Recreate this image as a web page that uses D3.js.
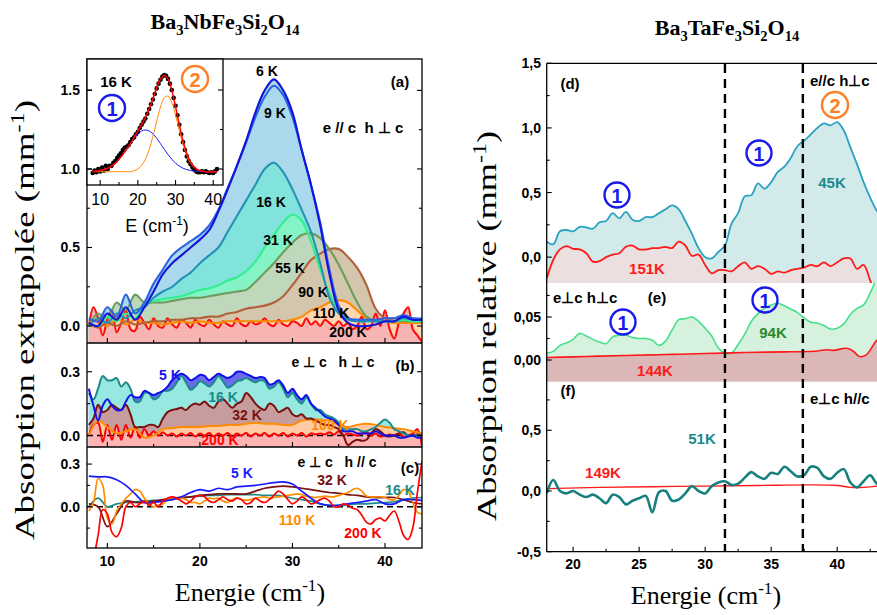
<!DOCTYPE html>
<html><head><meta charset="utf-8">
<script src="https://cdn.jsdelivr.net/npm/d3@7"></script>
<style>body{margin:0;background:#fff} svg{display:block}</style>
</head><body><script>
// ---------------- DATA ----------------
// Panel (a) : Ba3NbFe3Si2O14, e//c h⊥c
const E_A=[8,9,10,11,12,13,14,15,16,17,18,19,20,21,22,23,24,25,26,27,28,29,30,31,32,33,34,35,36,37,38,39,40,41,42,43,44];
const E_H=[8,8.5,9,9.5,10,10.5,11,11.5,12,12.5,13,13.5,14,14.5,15,15.5,16,16.5,17,17.5,18,18.5,19,19.5,20,20.5,21,21.5,22,22.5,23,23.5,24,24.5,25,25.5,26,26.5,27,27.5,28,28.5,29,29.5,30,30.5,31,31.5,32,32.5,33,33.5,34,34.5,35,35.5,36,36.5,37,37.5,38,38.5,39,39.5,40,40.5,41,41.5,42,42.5,43,43.5,44];
const a6K=[0.02,0,0.08,0.04,0.12,0.04,0.12,0.22,0.33,0.40,0.45,0.50,0.55,0.61,0.73,0.87,1.02,1.18,1.36,1.50,1.57,1.50,1.36,1.12,0.90,0.64,0.33,0.10,0.02,0,0,0.01,0.03,0.03,0.06,0.04,0.04];
const a9K=[0.05,0.03,0.12,0.06,0.20,0.08,0.15,0.27,0.36,0.45,0.50,0.54,0.58,0.64,0.74,0.88,1.02,1.17,1.33,1.46,1.53,1.47,1.33,1.12,0.90,0.66,0.36,0.13,0.05,0.04,0.04,0.04,0.05,0.05,0.07,0.05,0.05];
const a16K=[0,0.05,0.02,0.08,0.05,0.10,0.12,0.18,0.22,0.25,0.30,0.34,0.40,0.45,0.50,0.60,0.70,0.80,0.90,1.00,1.04,0.98,0.87,0.74,0.60,0.40,0.18,0.08,0.04,0.03,0.03,0.03,0.03,0.03,0.05,0.04,0.04];
const a31K=[0.02,0,0.06,0.03,0.08,0.05,0.14,0.16,0.17,0.18,0.19,0.21,0.23,0.24,0.26,0.29,0.31,0.35,0.41,0.50,0.58,0.66,0.71,0.67,0.54,0.36,0.21,0.10,0.05,0.03,0.03,0.03,0.03,0.03,0.04,0.03,0.03];
const a55K=[0,0.08,0.05,0.15,0.10,0.20,0.15,0.15,0.15,0.16,0.17,0.18,0.18,0.19,0.20,0.21,0.22,0.23,0.28,0.34,0.40,0.47,0.53,0.58,0.59,0.56,0.49,0.39,0.27,0.15,0.06,0.03,0.03,0.03,0.03,0.03,0.03];
const a90K=[0.02,-0.01,0.02,0,0.03,0.01,0.02,0.03,0.03,0.04,0.04,0.05,0.05,0.06,0.06,0.08,0.09,0.11,0.12,0.13,0.15,0.19,0.26,0.34,0.42,0.46,0.49,0.49,0.44,0.37,0.26,0.11,0.05,0.05,0.05,0.05,0.04];
const a110K=[0.02,0.04,0,0.05,0.01,0.04,0.02,0.02,0.01,0.02,0.03,0.02,0.03,0.02,0.02,0.03,0.03,0.03,0.03,0.03,0.03,0.03,0.04,0.06,0.10,0.12,0.15,0.165,0.15,0.10,0.05,0.03,0.03,0.02,0.02,0.02,0.02];
const a200K=[0,0.12,0.05,-0.06,0.04,0.10,-0.04,0.02,0.10,-0.02,-0.03,0.06,0.02,-0.02,0.05,0,-0.01,0.05,0.01,-0.01,0.04,0.02,-0.01,0.04,0.01,0,0.04,0.01,-0.01,0.03,0.01,0,0.05,0.01,0,0.03,0.01,0.02,0.05,0.01,0,0.04,0.01,0,0.03,0.02,0,0.05,0.01,0.03,0,0.04,0.02,0,0.03,0,0.02,-0.02,0,0.06,-0.02,0,0.08,0,0.10,-0.02,-0.08,0.02,0.08,0.12,-0.02,-0.06,-0.1];
// Inset (16 K fit)
const E_IN=[8,9,10,11,12,13,14,15,16,17,18,19,20,21,22,23,24,25,26,27,28,29,30,31,32,33,34,35,36,37,38,39,40,41];
const inBlue=[0.985,0.987,0.991,0.996,1.005,1.019,1.037,1.062,1.092,1.125,1.161,1.194,1.222,1.241,1.247,1.241,1.222,1.194,1.161,1.125,1.092,1.062,1.037,1.019,1.005,0.996,0.991,0.987,0.985,0.984,0.983,0.983,0.983,0.983];
const inOrange=[0.983,0.983,0.983,0.983,0.983,0.983,0.983,0.983,0.983,0.983,0.983,0.990,1.001,1.023,1.062,1.123,1.207,1.303,1.392,1.450,1.461,1.420,1.341,1.245,1.155,1.084,1.036,1.008,0.993,0.987,0.983,0.983,0.983,0.983];
const inFit=[0.985,0.987,0.991,0.996,1.005,1.019,1.037,1.062,1.092,1.125,1.161,1.201,1.240,1.281,1.326,1.381,1.446,1.514,1.570,1.592,1.570,1.499,1.395,1.281,1.177,1.097,1.044,1.012,0.995,0.988,0.983,0.983,0.983,0.983];
const E_DOT=[8,8.5,9,9.5,10,10.5,11,11.5,12,12.5,13,13.5,14,14.5,15,15.5,16,16.5,17,17.5,18,18.5,19,19.5,20,20.5,21,21.5,22,22.5,23,23.5,24,24.5,25,25.5,26,26.5,27,27.5,28,28.5,29,29.5,30,30.5,31,31.5,32,32.5,33,33.5,34,34.5,35,35.5,36,36.5,37,37.5,38,38.5,39,39.5,40,40.5,41];
const inDots=[0.975,0.99,0.98,1.00,0.985,1.01,0.99,1.02,1.0,1.02,1.02,1.04,1.05,1.07,1.085,1.10,1.12,1.135,1.14,1.15,1.17,1.19,1.20,1.22,1.235,1.26,1.28,1.30,1.32,1.35,1.38,1.41,1.44,1.475,1.51,1.54,1.565,1.585,1.595,1.59,1.57,1.54,1.50,1.45,1.40,1.34,1.28,1.22,1.17,1.12,1.08,1.05,1.03,1.01,0.995,0.985,0.98,0.98,0.985,0.98,0.985,0.98,0.975,0.98,0.975,0.985,1.0];
// Panel (b) : e⊥c h⊥c
const b5K=[0.22,0.14,0.07,0.14,0.17,0.14,0.12,0.12,0.16,0.19,0.18,0.18,0.21,0.20,0.19,0.20,0.21,0.23,0.26,0.28,0.29,0.28,0.26,0.27,0.285,0.28,0.26,0.275,0.29,0.28,0.27,0.28,0.30,0.30,0.29,0.28,0.27,0.275,0.27,0.24,0.245,0.26,0.235,0.20,0.22,0.19,0.17,0.19,0.15,0.13,0.11,0.09,0.08,0.07,0.05,0.02,0.02,0.02,0.01,0.01,0.01,0.01,0.02,0.01,0,0,0,-0.01,-0.01,-0.005,0,-0.01,-0.01];
const b16K=[0.20,0.17,0.22,0.28,0.26,0.26,0.27,0.23,0.25,0.22,0.16,0.16,0.20,0.20,0.17,0.18,0.21,0.21,0.22,0.25,0.28,0.25,0.215,0.23,0.255,0.245,0.23,0.25,0.28,0.255,0.225,0.235,0.255,0.26,0.27,0.26,0.25,0.26,0.255,0.22,0.23,0.25,0.22,0.18,0.20,0.17,0.15,0.18,0.15,0.12,0.12,0.10,0.09,0.08,0.06,0.03,0.03,0.03,0.03,0.02,0.02,0.03,0.04,0.06,0.075,0.06,0.03,0.02,0.01,0,0,0,0];
const b32K=[0.05,0.08,0.145,0.11,0.12,0.145,0.13,0.12,0.145,0.10,0.04,0.04,0.04,0.05,0.05,0.04,0.08,0.11,0.12,0.125,0.13,0.12,0.14,0.15,0.145,0.16,0.14,0.13,0.16,0.17,0.15,0.13,0.15,0.16,0.20,0.18,0.15,0.13,0.12,0.15,0.14,0.11,0.12,0.13,0.10,0.09,0.10,0.08,0.08,0.07,0.06,0.05,0.05,0.04,0.03,0,-0.045,-0.03,-0.02,-0.025,-0.02,0.01,0.03,0.02,0,-0.005,0,0.01,0.015,0,0,0.005,0];
const b100K=[0,0.07,0.04,0.01,0.02,0.03,-0.01,0,0.03,0.035,0.04,0.04,0.04,0.045,0.045,0.05,0.05,0.055,0.06,0.055,0.055,0.05,0.05,0.07,0.075,0.075,0.07,0.05,0.04,0.05,0.055,0.05,0.04,0.035,0.03,0.02,0.01];
const b200K=[0,0.05,0.06,-0.03,0.05,-0.02,0.05,-0.02,0.05,-0.01,0.04,-0.01,0.03,0,0.02,0,0.015,0,0.01,-0.005,0.01,0,0.012,-0.005,0.01,0,0.012,-0.005,0.01,0,0.012,-0.005,0.01,0,0.012,-0.005,0.01,0,0.012,-0.005,0.01,0,0.012,-0.005,0.01,0,0.012,-0.005,0.01,0.005,0.01,0.005,0.015,0.005,0.02,0,0.01,0.005,0,0.01,0.015,0,0.01,-0.005,0,0.005,0,0.01,-0.005,0,0.01,0.03,-0.05];
// Panel (c) : e⊥c h//c
const c5K=[0.215,0.21,0.21,0.19,0.15,0.09,0.03,0.03,0.04,0.05,0.07,0.10,0.12,0.11,0.13,0.12,0.14,0.145,0.15,0.16,0.17,0.175,0.16,0.11,0.06,0.02,0.01,0.01,0.02,0.03,0.04,0.05,0.02,0.02,0.05,0.05,0.045];
const c16K=[0,0.06,0,0.02,0.03,0.035,0.04,0.045,0.04,0.05,0.06,0.07,0.075,0.08,0.08,0.085,0.085,0.085,0.085,0.08,0.08,0.075,0.06,0.05,0.04,0.02,0.01,0.01,0.015,0.02,0.02,0.025,0.03,0.035,0.05,0.06,0.065];
const c32K=[0.02,0,-0.14,-0.05,0.04,0.03,0.03,0.04,0.05,0.06,0.065,0.07,0.08,0.085,0.09,0.09,0.09,0.09,0.11,0.13,0.14,0.145,0.14,0.13,0.12,0.11,0.10,0.095,0.085,0.08,0.07,0.065,0.065,0.065,0.05,0.03,0.02];
const c110K=[-0.03,0.03,0.2,0.15,-0.08,-0.12,-0.03,0.02,0.06,0.09,0.12,0.11,0.06,0.02,0,0.01,0.02,0.05,0.06,0.055,0.06,0.05,0.03,0.03,0.02,0.04,0.06,0.055,0.06,0.04,0.03,0.05,0.06,0.05,0.045,0.05,0.06,0.065,0.07,0.06,0.065,0.07,0.075,0.08,0.085,0.09,0.085,0.075,0.07,0.065,0.07,0.075,0.07,0.07,0.08,0.09,0.10,0.12,0.13,0.11,0.075,0.07,0.07,0.07,0.065,0.05,0.05,0.08,0.12,0.11,0.03,-0.04,-0.05];
const c200K=[-0.4,-0.35,-0.2,-0.02,-0.05,-0.18,-0.21,-0.15,0,0.03,0,0.02,0.04,0.01,0.03,0,0.04,0.06,0.07,0.06,0.04,0.02,0.04,0.07,0.08,0.07,0.04,0.03,0.05,0.07,0.05,0.04,0.06,0.05,0.02,0.03,0.06,0.04,0.03,0.05,0.08,0.11,0.09,0.05,0.02,0.04,0.07,0.05,0.02,0.03,0.05,0.06,0.04,0,0,0.02,0.01,-0.01,-0.02,-0.06,-0.11,-0.12,-0.09,-0.08,-0.1,-0.06,-0.03,-0.1,-0.2,-0.23,-0.15,0.1,0.32];
// Right: Ba3TaFe3Si2O14
const E_R=[18,18.5,19,19.5,20,20.5,21,21.5,22,22.5,23,23.5,24,24.5,25,25.5,26,26.5,27,27.5,28,28.5,29,29.5,30,30.5,31,31.5,32,32.5,33,33.5,34,34.5,35,35.5,36,36.5,37,37.5,38,38.5,39,39.5,40,40.5,41,41.5,42,42.5,43,43.5,44];
const d45K=[0.12,0.10,0.20,0.21,0.20,0.235,0.23,0.22,0.27,0.28,0.34,0.30,0.35,0.29,0.28,0.31,0.31,0.34,0.37,0.40,0.37,0.28,0.18,0.07,0,-0.01,0.04,0.09,0.26,0.34,0.47,0.48,0.57,0.53,0.58,0.66,0.70,0.77,0.86,0.90,0.95,1.00,1.035,1.02,1.045,0.98,0.85,0.72,0.58,0.46,0.36,0.30,0.25];
const d151K=[-0.165,-0.02,0.06,0.085,0.065,0.06,0.03,-0.035,-0.03,0,0.02,0.03,0.08,0.09,0.06,0.06,0.07,0.07,0.08,0.07,0.12,0.09,0.01,0.02,-0.06,-0.125,-0.10,-0.10,-0.11,-0.07,-0.04,-0.09,-0.07,-0.09,-0.13,-0.11,-0.12,-0.10,-0.09,-0.08,-0.06,-0.07,-0.04,-0.07,-0.04,-0.01,-0.01,-0.09,-0.06,-0.18,-0.3,-0.3,-0.3];
const e94K=[0.008,0.01,0.017,0.02,0.024,0.031,0.028,0.024,0.021,0.019,0.027,0.029,0.029,0.026,0.025,0.025,0.023,0.017,0.022,0.035,0.047,0.048,0.05,0.045,0.037,0.028,0.014,0.008,0.0085,0.018,0.03,0.045,0.054,0.06,0.064,0.066,0.063,0.059,0.055,0.049,0.044,0.043,0.04,0.036,0.037,0.042,0.053,0.06,0.064,0.078,0.095,0.11,0.12];
const E_144=[18,20,22,24,26,28,30,32,34,36,37.5,38.5,39.2,39.7,40.7,41.2,41.7,42.2,43,44];
const e144K=[0.003,0.0037,0.0045,0.0052,0.006,0.0067,0.0075,0.0083,0.009,0.0095,0.0098,0.0105,0.012,0.0112,0.0136,0.0105,0.004,0.006,0.023,0.035];
const f51K=[-0.02,0.09,0,-0.02,0,-0.03,-0.05,-0.03,-0.06,-0.1,-0.03,-0.05,-0.11,-0.08,-0.06,-0.04,-0.175,-0.01,0,-0.08,-0.07,-0.02,0.04,0,-0.02,0.04,0.07,0.08,0.05,0.06,0.11,0.155,0.12,0.10,0.15,0.14,0.2,0.16,0.12,0.13,0.2,0.19,0.12,0.1,0.15,0.18,0.07,0.03,0.08,0.13,0.06,0.04,0.08];
const E_149=[18,22,26,30,34,38,40,41,42,43,44];
const f149K=[0.02,0.03,0.035,0.04,0.045,0.05,0.045,0.03,0.03,0.04,0.05];
const DASH_E=[31.5,37.4];

// ---------------- SETUP ----------------
const W=877,H=615;
const SANS='"Liberation Sans", Arial, Helvetica, sans-serif';
const SERIF='"Liberation Serif", "Times New Roman", Times, serif';
const NB='\u00a0';
const svg=d3.select('body').append('svg').attr('width',W).attr('height',H)
  .style('font-family',SANS);
svg.append('rect').attr('width',W).attr('height',H).attr('fill','#fff');
const defs=svg.append('defs');
function clip(id,x,y,w,h){defs.append('clipPath').attr('id',id).append('rect').attr('x',x).attr('y',y).attr('width',w).attr('height',h);return `url(#${id})`;}

const xL=d3.scaleLinear().domain([7.8,44]).range([87,422]);
const yA=d3.scaleLinear().domain([-0.108,1.70]).range([343,59]);
const yB=d3.scaleLinear().domain([-0.054,0.435]).range([447,343]);
const yC=d3.scaleLinear().domain([-0.29,0.42]).range([548,447]);
const xR=d3.scaleLinear().domain([18,44]).range([546.7,890]);
const yD=d3.scaleLinear().domain([-0.2,1.5]).range([283,63.3]);
const yE=d3.scaleLinear().domain([-0.0252,0.0895]).range([381.7,283]);
const yF=d3.scaleLinear().domain([-0.5,0.9]).range([551.7,381.7]);
const xI=d3.scaleLinear().domain([6.5,42.6]).range([87,223]);
const yI=d3.scaleLinear().domain([0.899,1.696]).range([185,59]);

const pts=(xs,ys)=>xs.map((x,i)=>[x,ys[i]]);
const CURVE=d3.curveCatmullRom.alpha(0.5);
function area(g,x,y,xs,ys,fill){
  const base=y.range()[0];
  g.append('path').datum(pts(xs,ys)).attr('fill',fill)
   .attr('d',d3.area().x(d=>x(d[0])).y0(base).y1(d=>y(d[1])).curve(CURVE));
}
function line(g,x,y,xs,ys,stroke,w,dash){
  const p=g.append('path').datum(pts(xs,ys)).attr('fill','none').attr('stroke',stroke).attr('stroke-width',w)
   .attr('stroke-linejoin','round').attr('d',d3.line().x(d=>x(d[0])).y(d=>y(d[1])).curve(CURVE));
  if(dash)p.attr('stroke-dasharray',dash);
}
function txt(x,y,parts,o={}){
  const fs=o.size||14;
  const t=svg.append('text').attr('x',x).attr('y',y).attr('font-family',o.family||SANS).attr('font-size',fs)
    .attr('font-weight',o.weight||'bold').attr('fill',o.fill||'#000').attr('text-anchor',o.anchor||'middle')
    .style('white-space','pre');
  if(o.db)t.attr('dominant-baseline',o.db);
  if(o.rotate)t.attr('transform',`rotate(${o.rotate},${x},${y})`);
  if(typeof parts==='string'){t.text(parts);}
  else{let prev=0;parts.forEach(([s,m])=>{const sh=m==='sub'?fs*0.28:(m==='sup'?-fs*0.38:0);
      const sp=t.append('tspan').attr('dy',sh-prev).text(s);if(m)sp.attr('font-size',fs*0.66);prev=sh;});}
  if(o.len)t.attr('textLength',o.len).attr('lengthAdjust','spacingAndGlyphs');
  return t;
}
function circNum(cx,cy,r,color,num){
  svg.append('circle').attr('cx',cx).attr('cy',cy).attr('r',r).attr('fill','none').attr('stroke',color).attr('stroke-width',2.4);
  txt(cx,cy+1,num,{size:r*1.55,fill:color,db:'central'});
}
function yTicks(x0,x1,y,majors,minors){
  const g=svg.append('g').attr('stroke','#000').attr('stroke-width',1.1);
  majors.forEach(v=>{g.append('line').attr('x1',x0).attr('x2',x0+5).attr('y1',y(v)).attr('y2',y(v));
    if(x1!==null)g.append('line').attr('x1',x1).attr('x2',x1-5).attr('y1',y(v)).attr('y2',y(v));});
  minors.forEach(v=>{g.append('line').attr('x1',x0).attr('x2',x0+3).attr('y1',y(v)).attr('y2',y(v));
    if(x1!==null)g.append('line').attr('x1',x1).attr('x2',x1-3).attr('y1',y(v)).attr('y2',y(v));});
}
function xTicks(x,yb,majors,minors,up){
  const g=svg.append('g').attr('stroke','#000').attr('stroke-width',1.1);
  majors.forEach(v=>g.append('line').attr('x1',x(v)).attr('x2',x(v)).attr('y1',yb).attr('y2',yb-5*up));
  minors.forEach(v=>g.append('line').attr('x1',x(v)).attr('x2',x(v)).attr('y1',yb).attr('y2',yb-3*up));
}

// ---------------- LEFT PLOT ----------------
const gA=svg.append('g').attr('clip-path',clip('cA',87,59,335,284));
const seriesA=[
 [a6K,'#a9d6ea','#1414dc',E_A],[a9K,'#aad8ec','#2a64e0',E_A],[a16K,'#82e2dc','#2393b4',E_A],
 [a31K,'#84f3c6','#2ff08f',E_A],[a55K,'#bfd8bc','#6e9c5c',E_A],[a90K,'#d4c5ad','#b2603a',E_A],
 [a110K,'#ffd6b0','#ff8a00',E_A],[a200K,'#f8b3b3','#ff0d0d',E_H]];
seriesA.forEach(s=>area(gA,xL,yA,s[3],s[0],s[1]));
seriesA.slice().reverse().forEach(s=>line(gA,xL,yA,s[3],s[0],s[2],2.1));

const gB=svg.append('g').attr('clip-path',clip('cB',87,343,335,104));
const seriesB=[[b5K,'#6b6bec','#1111ee',E_H],[b16K,'#97e8e0','#1a8a8a',E_H],[b32K,'#c69c9c','#7a1010',E_H],
 [b100K,'#ffcaa4','#ff8c00',E_A],[b200K,'#ffb3b3','#ff0000',E_H]];
seriesB.forEach(s=>area(gB,xL,yB,s[3],s[0],s[1]));
gB.append('line').attr('x1',87).attr('x2',422).attr('y1',yB(0)).attr('y2',yB(0)).attr('stroke','#000').attr('stroke-width',1.6).attr('stroke-dasharray','6,4');
seriesB.slice().reverse().forEach(s=>line(gB,xL,yB,s[3],s[0],s[2],2));

const gC=svg.append('g').attr('clip-path',clip('cC',87,447,335,101));
gC.append('line').attr('x1',87).attr('x2',422).attr('y1',yC(0)).attr('y2',yC(0)).attr('stroke','#000').attr('stroke-width',1.6).attr('stroke-dasharray','6,4');
[[c16K,'#1a8a8a',E_A],[c32K,'#7a1010',E_A],[c110K,'#ff8c00',E_H],[c5K,'#1a1aff',E_A],[c200K,'#ff0000',E_H]]
 .forEach(s=>line(gC,xL,yC,s[2],s[0],s[1],1.7));

// frames
svg.append('rect').attr('x',87).attr('y',59).attr('width',335).attr('height',489).attr('fill','none').attr('stroke','#000').attr('stroke-width',1.3);
[343,447].forEach(y=>svg.append('line').attr('x1',87).attr('x2',422).attr('y1',y).attr('y2',y).attr('stroke','#000').attr('stroke-width',1.3));

// inset
svg.append('rect').attr('x',87).attr('y',59).attr('width',136).attr('height',126).attr('fill','#fff').attr('stroke','#000').attr('stroke-width',1.3);
const gI=svg.append('g').attr('clip-path',clip('cI',87,59,136,126));
gI.selectAll('circle').data(pts(E_DOT,inDots)).join('circle').attr('cx',d=>xI(d[0])).attr('cy',d=>yI(d[1])).attr('r',2.3).attr('fill','#000');
line(gI,xI,yI,E_IN,inBlue,'#1a1aff',1);
line(gI,xI,yI,E_IN,inOrange,'#ff8c00',1);
line(gI,xI,yI,E_IN,inFit,'#ff0000',1.5);
yTicks(87,223,yI,[1.0,1.5],[1.25]);
xTicks(xI,185,[10,20,30,40],[15,25,35],1);
[10,20,30,40].forEach(v=>txt(xI(v),205,String(v),{size:16,weight:'normal'}));
txt(157,232,[['E (cm',0],['-1','sup'],[')',0]],{size:18,weight:'normal'});
txt(116,87,'16'+NB+'K',{size:15});
circNum(112,108,13,'#1a1aee','1');
circNum(195,79,13,'#ff7f27','2');

// left ticks & labels
yTicks(87,422,yA,[0,0.5,1.0,1.5],[0.25,0.75,1.25]);
yTicks(87,422,yB,[0,0.3],[0.15]);
yTicks(87,422,yC,[0,0.3],[0.15,-0.15]);
xTicks(xL,548,[10,20,30,40],[15,25,35],1);
xTicks(xL,343,[10,20,30,40],[15,25,35],1);
xTicks(xL,447,[10,20,30,40],[15,25,35],1);
[[yA,[[0,'0.0'],[0.5,'0.5'],[1.0,'1.0'],[1.5,'1.5']]],[yB,[[0,'0.0'],[0.3,'0.3']]],[yC,[[0,'0.0'],[0.3,'0.3']]]]
 .forEach(([y,l])=>l.forEach(([v,s])=>txt(80,y(v),s,{anchor:'end',db:'central',size:14})));
[10,20,30,40].forEach(v=>txt(xL(v),561,String(v),{size:14,db:'central'}));

// annotations (a)
const K=s=>s.replace(/ /g,NB);
txt(267,71,K('6 K'),{db:'central'});txt(275,113,K('9 K'),{db:'central'});txt(271,202,K('16 K'),{db:'central'});
txt(278,240,K('31 K'),{db:'central'});txt(290,268,K('55 K'),{db:'central'});txt(313,292,K('90 K'),{db:'central'});
txt(331,313,K('110 K'),{db:'central'});txt(348,332,K('200 K'),{db:'central'});
txt(400,81,'(a)',{db:'central',size:15});txt(363,127,K('e // c  h \u22A5 c'),{db:'central',size:15});
// (b)
txt(170,375,K('5 K'),{db:'central',fill:'#1111ee'});txt(223,397,K('16 K'),{db:'central',fill:'#1a8a8a'});
txt(247,415,K('32 K'),{db:'central',fill:'#7a1010'});txt(330,425,K('100 K'),{db:'central',fill:'#ff8c00'});
txt(220,440,K('200 K'),{db:'central',fill:'#ff0000'});
txt(333,362,K('e \u22A5 c   h \u22A5 c'),{db:'central',size:14});txt(405,365,'(b)',{db:'central',size:15});
// (c)
txt(242,473,K('5 K'),{db:'central',fill:'#1a1aff'});txt(332,480,K('32 K'),{db:'central',fill:'#7a1010'});
txt(400,490,K('16 K'),{db:'central',fill:'#1a8a8a'});txt(297,520,K('110 K'),{db:'central',fill:'#ff8c00'});
txt(363,533,K('200 K'),{db:'central',fill:'#ff0000'});
txt(337,462,K('e \u22A5 c   h // c'),{db:'central',size:14});txt(410,467,'(c)',{db:'central',size:15});

// ---------------- RIGHT PLOT ----------------
const gD=svg.append('g').attr('clip-path',clip('cD',546.7,63.3,340,219.7));
area(gD,xR,yD,E_R,d45K,'#d3eaea');area(gD,xR,yD,E_R,d151K,'#ecdfdf');
line(gD,xR,yD,E_R,d45K,'#2aa2c2',1.8);line(gD,xR,yD,E_R,d151K,'#ff1a1a',1.8);
const gE=svg.append('g').attr('clip-path',clip('cE',546.7,283,340,98.7));
area(gE,xR,yE,E_R,e94K,'#d6f1de');area(gE,xR,yE,E_144,e144K,'#dbb7b7');
line(gE,xR,yE,E_R,e94K,'#45e08a',1.6);line(gE,xR,yE,E_144,e144K,'#ff1a1a',1.6);
const gF=svg.append('g').attr('clip-path',clip('cF',546.7,381.7,340,170));
line(gF,xR,yF,E_149,f149K,'#ff1a1a',1.3);line(gF,xR,yF,E_R,f51K,'#17807f',2.6);

// dashed verticals
DASH_E.forEach(e=>svg.append('line').attr('x1',xR(e)).attr('x2',xR(e)).attr('y1',64).attr('y2',551).attr('stroke','#000').attr('stroke-width',2.4).attr('stroke-dasharray','9,6'));

// right frame
svg.append('line').attr('x1',546.7).attr('x2',W).attr('y1',63.3).attr('y2',63.3).attr('stroke','#000').attr('stroke-width',1.3);
svg.append('line').attr('x1',546.7).attr('x2',W).attr('y1',551.7).attr('y2',551.7).attr('stroke','#000').attr('stroke-width',1.3);
svg.append('line').attr('x1',546.7).attr('x2',546.7).attr('y1',63.3).attr('y2',551.7).attr('stroke','#000').attr('stroke-width',1.3);
yTicks(546.7,null,yD,[0,0.5,1.0,1.5],[0.25,0.75,1.25]);
yTicks(546.7,null,yE,[0,0.05],[0.025,0.075]);
yTicks(546.7,null,yF,[-0.5,0,0.5],[-0.25,0.25,0.75]);
xTicks(xR,551.7,[20,25,30,35,40],[22.5,27.5,32.5,37.5,42.5],1);
[[yD,[[0,'0,0'],[0.5,'0,5'],[1.0,'1,0'],[1.5,'1,5']]],[yE,[[0,'0,00'],[0.05,'0,05']]],[yF,[[-0.5,'-0,5'],[0,'0,0'],[0.5,'0,5']]]]
 .forEach(([y,l])=>l.forEach(([v,s])=>txt(541,y(v),s,{anchor:'end',db:'central',size:14})));
[20,25,30,35,40].forEach(v=>txt(xR(v),564,String(v),{size:14,db:'central'}));

txt(570,83,'(d)',{db:'central',size:15});
txt(810,80,K('e//c h\u22A5c'),{db:'central',size:15,anchor:'start'});
circNum(835,105,13,'#ff7f27','2');
circNum(617,195,12.5,'#1a1aee','1');circNum(759,153,12.5,'#1a1aee','1');
txt(832,182,'45K',{db:'central',size:15,fill:'#1a8a8a'});
txt(647,268,'151K',{db:'central',size:15,fill:'#ff1a1a'});
txt(553,297,K('e\u22A5c h\u22A5c'),{db:'central',size:15,anchor:'start'});
txt(657,297,'(e)',{db:'central',size:15});
circNum(623,322,12.5,'#1a1aee','1');circNum(765,300,12.5,'#1a1aee','1');
txt(773,332,'94K',{db:'central',size:15,fill:'#2a8a2a'});
txt(655,370,'144K',{db:'central',size:15,fill:'#ff1a1a'});
txt(568,390,'(f)',{db:'central',size:15});
txt(810,398,K('e\u22A5c h//c'),{db:'central',size:15,anchor:'start'});
txt(702,438,'51K',{db:'central',size:15,fill:'#1a8a8a'});
txt(603,472,'149K',{db:'central',size:15,fill:'#ff1a1a'});

// ---------------- TITLES & AXIS TITLES ----------------
txt(225,29,[['Ba',0],['3','sub'],['NbFe',0],['3','sub'],['Si',0],['2','sub'],['O',0],['14','sub']],{family:SERIF,size:22});
txt(727,35,[['Ba',0],['3','sub'],['TaFe',0],['3','sub'],['Si',0],['2','sub'],['O',0],['14','sub']],{family:SERIF,size:22});
txt(250,601,[['Energie (cm',0],['-1','sup'],[')',0]],{family:SERIF,size:26,weight:'normal'});
txt(706,604,[['Energie (cm',0],['-1','sup'],[')',0]],{family:SERIF,size:26,weight:'normal'});
txt(34,320,[['Absorption extrapol\u00e9e (mm',0],['-1','sup'],[')',0]],{family:SERIF,size:27,weight:'normal',rotate:-90,len:440});
txt(496,326,[['Absorption relative (mm',0],['-1','sup'],[')',0]],{family:SERIF,size:27,weight:'normal',rotate:-90,len:390});
</script></body></html>
